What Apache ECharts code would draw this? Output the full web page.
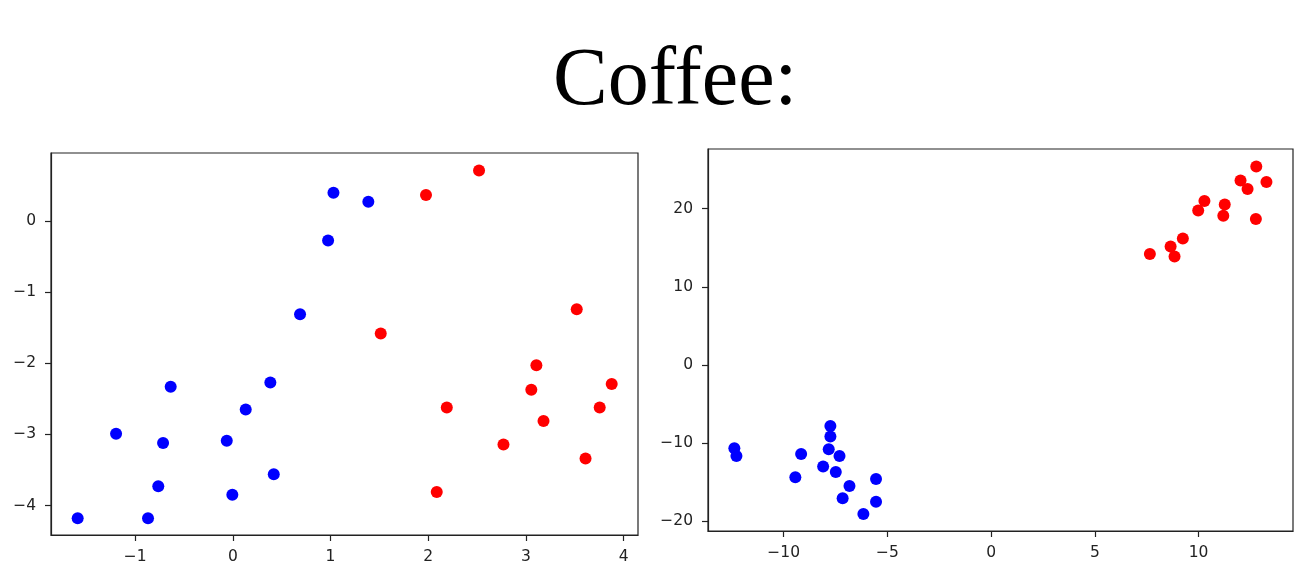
<!DOCTYPE html>
<html>
<head>
<meta charset="utf-8">
<script src="https://cdn.jsdelivr.net/npm/echarts@6/dist/echarts.min.js"></script>
<style>html,body{margin:0;padding:0;background:#fff}#c{width:1304px;height:577px}</style>
</head>
<body>
<div id="c"></div>
<script>
// Left panel data
const leftBlue = [
  [1.03, 0.40], [1.387, 0.275], [0.975, -0.27], [0.688, -1.31],
  [-0.636, -2.33], [0.384, -2.27], [0.132, -2.65], [-1.195, -2.99],
  [-0.714, -3.12], [-0.062, -3.09], [0.419, -3.56], [-0.763, -3.73],
  [-0.005, -3.85], [-1.588, -4.18], [-0.868, -4.18]
];
const leftRed = [
  [2.52, 0.715], [1.977, 0.37], [3.52, -1.24], [1.514, -1.58],
  [3.107, -2.025], [3.055, -2.37], [3.878, -2.29], [3.755, -2.62],
  [2.19, -2.62], [3.18, -2.81], [2.77, -3.14], [3.61, -3.34], [2.087, -3.81]
];
// Right panel data
const rightBlue = [
  [-12.38, -10.68], [-12.28, -11.67], [-9.16, -11.41], [-9.44, -14.4],
  [-7.75, -7.82], [-7.75, -9.19], [-7.83, -10.81], [-7.31, -11.67],
  [-8.1, -13.03], [-7.49, -13.72], [-6.83, -15.51], [-7.16, -17.09],
  [-5.55, -14.62], [-5.55, -17.52], [-6.16, -19.1]
];
const rightRed = [
  [12.78, 25.42], [12.02, 23.63], [13.27, 23.42], [12.36, 22.52],
  [10.28, 20.99], [9.98, 19.78], [11.26, 20.55], [11.19, 19.1],
  [12.76, 18.68], [9.24, 16.19], [8.65, 15.17], [8.84, 13.88], [7.65, 14.19]
];
// Tick labels
const leftXTicks = [-1, 0, 1, 2, 3, 4];
const leftYTicks = [-4, -3, -2, -1, 0];
const rightXTicks = [-10, -5, 0, 5, 10];
const rightYTicks = [-20, -10, 0, 10, 20];
const titleText = 'Coffee:';

const fmt = v => String(v).replace('-', '\u2212');
const labelStyle = { fontFamily: 'DejaVu Sans', fontSize: 15.5, color: '#222', formatter: fmt };

function axis(gridIndex, min, max, ticks, isY) {
  return {
    type: 'value', gridIndex, min, max, scale: true,
    axisLine: { show: true, onZero: false, lineStyle: { color: '#222', width: 1.2 } },
    axisTick: { show: true, length: 6, customValues: ticks, lineStyle: { color: '#222', width: 1.2 } },
    axisLabel: Object.assign({ customValues: ticks, margin: isY ? 15 : 14 }, labelStyle),
    splitLine: { show: false }
  };
}

const chart = echarts.init(document.getElementById('c'), null, { renderer: 'canvas' });
chart.setOption({
  animation: false,
  backgroundColor: '#fff',
  title: {
    text: titleText, left: 548, top: 36,
    textStyle: { fontFamily: 'Liberation Serif', fontSize: 82, fontWeight: 'normal', color: '#000' }
  },
  grid: [
    { left: 51, top: 153, width: 587, height: 382, show: true, borderColor: '#222', borderWidth: 1.2, containLabel: false },
    { left: 708, top: 149, width: 585, height: 382, show: true, borderColor: '#222', borderWidth: 1.2, containLabel: false }
  ],
  xAxis: [
    axis(0, -1.861, 4.147, leftXTicks, false),
    axis(1, -13.65, 14.55, rightXTicks, false)
  ],
  yAxis: [
    axis(0, -4.415, 0.96, leftYTicks, true),
    axis(1, -21.28, 27.65, rightYTicks, true)
  ],
  series: [
    { type: 'scatter', xAxisIndex: 0, yAxisIndex: 0, data: leftBlue, symbolSize: 12, itemStyle: { color: '#0000ff', opacity: 1 } },
    { type: 'scatter', xAxisIndex: 0, yAxisIndex: 0, data: leftRed, symbolSize: 12, itemStyle: { color: '#ff0000', opacity: 1 } },
    { type: 'scatter', xAxisIndex: 1, yAxisIndex: 1, data: rightBlue, symbolSize: 12, itemStyle: { color: '#0000ff', opacity: 1 } },
    { type: 'scatter', xAxisIndex: 1, yAxisIndex: 1, data: rightRed, symbolSize: 12, itemStyle: { color: '#ff0000', opacity: 1 } }
  ]
});
</script>
</body>
</html>
